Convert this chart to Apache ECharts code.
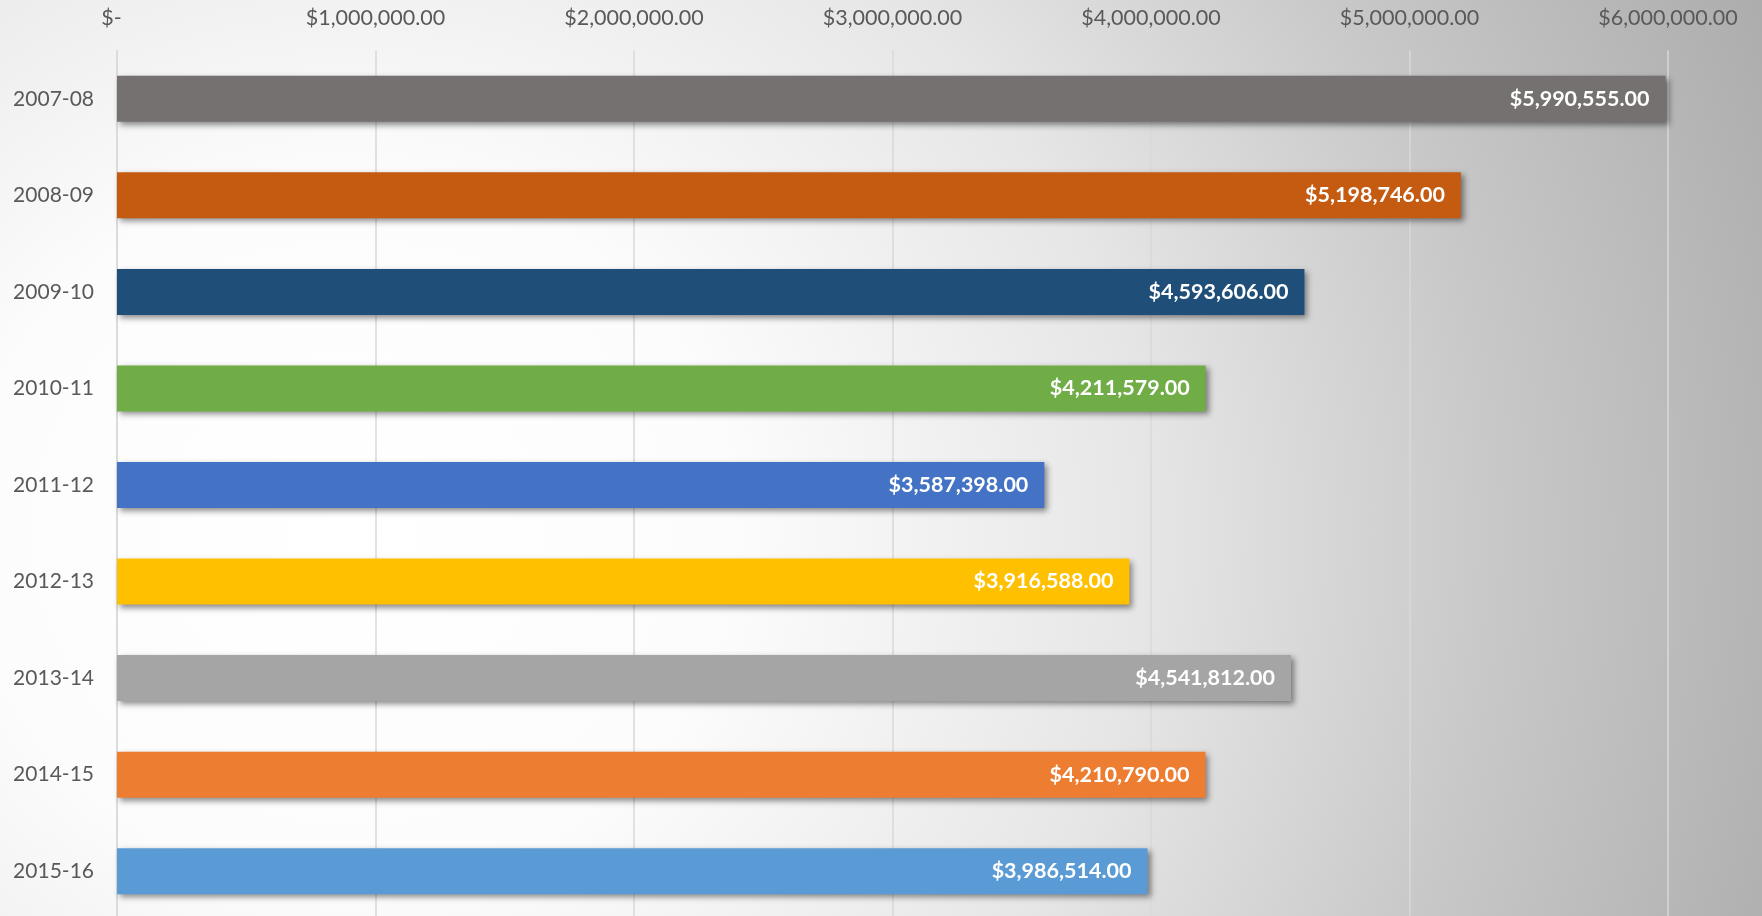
<!DOCTYPE html>
<html><head><meta charset="utf-8">
<script src="https://cdn.jsdelivr.net/npm/echarts@6/dist/echarts.min.js"></script>
<style>
html,body{margin:0;padding:0;}
#c{width:1762px;height:916px;background:radial-gradient(ellipse 90% 160% at 20% 58%, #ffffff 0%, #fcfcfc 24%, #e6e6e6 50%, #c8c8c8 72%, #a8a8a8 100%);}
</style></head><body>
<div id="c"></div>
<script>
const categories = ['2007-08','2008-09','2009-10','2010-11','2011-12','2012-13','2013-14','2014-15','2015-16'];
const values = [5990555, 5198746, 4593606, 4211579, 3587398, 3916588, 4541812, 4210790, 3986514];
const barColors = ['#767171','#C55A11','#1F4E79','#70AD47','#4472C4','#FFC000','#A5A5A5','#ED7D31','#5B9BD5'];
const xTicks = [0,1000000,2000000,3000000,4000000,5000000,6000000];

function money(v){
  if (v === 0) return '$-  ';
  return '$' + v.toLocaleString('en-US',{minimumFractionDigits:2,maximumFractionDigits:2});
}
const FONT = 'Lato, "Open Sans", sans-serif';
const chart = echarts.init(document.getElementById('c'), null, {renderer:'canvas'});
chart.setOption({
  backgroundColor:'transparent',
  animation:false,
  grid:{left:117, right:94, top:50.5, height:869, containLabel:false, outerBoundsMode:'none'},
  xAxis:{
    type:'value', position:'top', min:xTicks[0], max:xTicks[xTicks.length-1], interval:1000000,
    axisLine:{show:false}, axisTick:{show:false},
    splitLine:{show:true, lineStyle:{color:'#d9d9d9', width:1.5}},
    axisLabel:{formatter:money, color:'#595959', fontFamily:FONT, fontSize:21.5, margin:21}
  },
  yAxis:{
    type:'category', data:categories, inverse:true,
    axisLine:{show:true, lineStyle:{color:'#d9d9d9', width:1.5}}, axisTick:{show:false},
    axisLabel:{color:'#595959', fontFamily:FONT, fontSize:21, margin:23}
  },
  series:[{
    type:'bar', barWidth:46,
    data: values.map((v,i)=>({value:v, itemStyle:{color:barColors[i]}})),
    itemStyle:{shadowColor:'rgba(0,0,0,0.45)', shadowBlur:6, shadowOffsetX:3, shadowOffsetY:3},
    label:{show:true, position:'insideRight', distance:16, formatter:p=>money(p.value), color:'#ffffff', fontWeight:'bold', fontFamily:FONT, fontSize:21.5}
  }]
});
</script>
</body></html>
